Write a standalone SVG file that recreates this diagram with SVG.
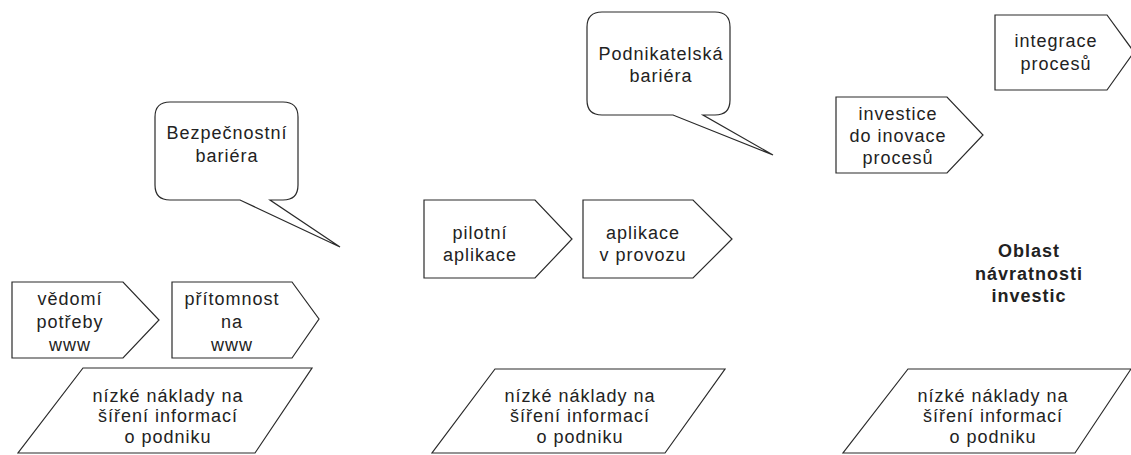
<svg xmlns="http://www.w3.org/2000/svg" width="1131" height="455" viewBox="0 0 1131 455">
<style>
.s{fill:#fff;stroke:#2a2a2a;stroke-width:1.2;stroke-linejoin:miter}
.t{font-family:"Liberation Sans",Arial,sans-serif;font-size:18px;fill:#222;text-anchor:middle;letter-spacing:1px}
.b{font-weight:bold}
</style>
<rect width="1131" height="455" fill="#fff"/>
<g id="connectors"></g>
<g id="bubble1">
<path class="s" d="M170,102 H283 Q298,102 298,117 V185 Q298,200 283,200 H270 L340,247 L240,200 H170 Q155,200 155,185 V117 Q155,102 170,102 Z"/>
<text class="t" x="227" y="139">Bezpečnostní</text>
<text class="t" x="227" y="162">bariéra</text>
</g>
<g id="bubble2">
<path class="s" d="M602,12 H715 Q730,12 730,27 V100 Q730,115 715,115 H703 L773,155 L673,115 H602 Q587,115 587,100 V27 Q587,12 602,12 Z"/>
<text class="t" x="661" y="60">Podnikatelská</text>
<text class="t" x="661" y="82">bariéra</text>
</g>
<g id="vedomi">
<polygon class="s" points="12,282 123,282 159,320 123,358 12,358"/>
<text class="t" x="70" y="305">vědomí</text>
<text class="t" x="70" y="328">potřeby</text>
<text class="t" x="70" y="351">www</text>
</g>
<g id="pritomnost">
<polygon class="s" points="172,282 292,282 319,319 292,358 172,358"/>
<text class="t" x="232" y="305">přítomnost</text>
<text class="t" x="232" y="328">na</text>
<text class="t" x="232" y="351">www</text>
</g>
<g id="pilotni">
<polygon class="s" points="424,200 535,200 572,239 535,278 424,278"/>
<text class="t" x="480" y="239">pilotní</text>
<text class="t" x="480" y="261">aplikace</text>
</g>
<g id="provoz">
<polygon class="s" points="583,200 693,200 732,239 693,278 583,278"/>
<text class="t" x="643" y="239">aplikace</text>
<text class="t" x="643" y="261">v provozu</text>
</g>
<g id="investice">
<polygon class="s" points="836,97 947,97 983,135 947,173 836,173"/>
<text class="t" x="898" y="120">investice</text>
<text class="t" x="898" y="142">do inovace</text>
<text class="t" x="898" y="164">procesů</text>
</g>
<g id="integrace">
<polygon class="s" points="995,15 1107,15 1134,52 1107,90 995,90"/>
<text class="t" x="1056" y="47">integrace</text>
<text class="t" x="1056" y="70">procesů</text>
</g>
<g id="oblast">
<text class="t b" x="1029" y="257">Oblast</text>
<text class="t b" x="1029" y="280">návratnosti</text>
<text class="t b" x="1029" y="302">investic</text>
</g>
<g id="naklady1">
<polygon class="s" points="83,368 312,368 255,453 18,453"/>
<text class="t" x="168" y="402">nízké náklady na</text>
<text class="t" x="168" y="422">šíření informací</text>
<text class="t" x="168" y="443">o podniku</text>
</g>
<g id="naklady2">
<polygon class="s" points="495,369 725,369 665,453 432,453"/>
<text class="t" x="580" y="402">nízké náklady na</text>
<text class="t" x="580" y="422">šíření informací</text>
<text class="t" x="580" y="443">o podniku</text>
</g>
<g id="naklady3">
<polygon class="s" points="908,369 1131,369 1075,453 843,453"/>
<text class="t" x="993" y="402">nízké náklady na</text>
<text class="t" x="993" y="422">šíření informací</text>
<text class="t" x="993" y="443">o podniku</text>
</g>
</svg>
